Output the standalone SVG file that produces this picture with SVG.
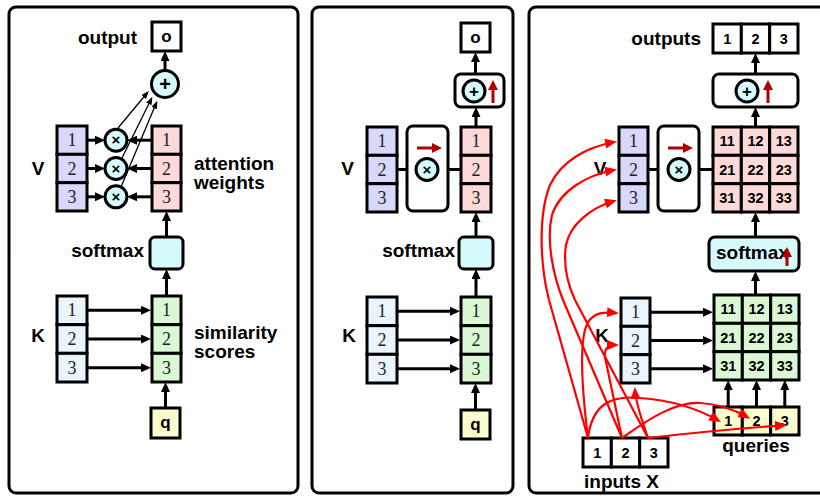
<svg xmlns="http://www.w3.org/2000/svg" width="820" height="497" viewBox="0 0 820 497">
<defs>
<style>
.panel{fill:#fff;stroke:#000;stroke-width:3}
.bx{stroke:#000;stroke-width:3}
.w{fill:#fff}
.vv{fill:#d8d8fa}
.kk{fill:#eaf4fd}
.aw{fill:#fdd9d9}
.ss{fill:#d9f8d3}
.sm{fill:#d6fafc}
.qq{fill:#fdfccf}
.op{fill:#d6fafc;stroke:#000;stroke-width:3}
.lbl{font-family:"Liberation Sans",Arial,sans-serif;font-weight:bold;font-size:19px;fill:#000}
.num{font-family:"Liberation Serif","Times New Roman",serif;font-size:18px;text-anchor:middle;fill:#222}
.cl{font-family:"Liberation Sans",Arial,sans-serif;font-weight:bold;font-size:14.5px;text-anchor:middle;fill:#000}
.sym{font-family:"Liberation Sans",Arial,sans-serif;font-weight:bold;text-anchor:middle;fill:#000}
.ar{stroke:#000;stroke-width:3;fill:none;marker-end:url(#ah)}
.thin{stroke:#000;stroke-width:1.3;fill:none;marker-end:url(#ahs)}
.ln{stroke:#000;stroke-width:3;fill:none}
.red{stroke:#ff0000;stroke-width:2.2;fill:none;marker-end:url(#ahr)}
.dr{stroke:#b00000;stroke-width:3;fill:none;marker-end:url(#ahd)}
</style>
<marker id="ah" viewBox="0 0 10 9" refX="6" refY="4.5" markerWidth="10" markerHeight="9" markerUnits="userSpaceOnUse" orient="auto"><path d="M0,0 L10,4.5 L0,9 z" fill="#000"/></marker>
<marker id="ahs" viewBox="0 0 8 6" refX="6" refY="3" markerWidth="8" markerHeight="6" markerUnits="userSpaceOnUse" orient="auto"><path d="M0,0 L8,3 L0,6 z" fill="#000"/></marker>
<marker id="ahr" viewBox="0 0 12 10" refX="9" refY="5" markerWidth="12" markerHeight="10" markerUnits="userSpaceOnUse" orient="auto"><path d="M0,0 L12,5 L0,10 z" fill="#ff0000"/></marker>
<marker id="ahd" viewBox="0 0 10 10" refX="6" refY="5" markerWidth="10" markerHeight="10" markerUnits="userSpaceOnUse" orient="auto"><path d="M0,0 L10,5 L0,10 z" fill="#b00000"/></marker>
</defs>

<g id="panels">
<rect class="panel" x="9" y="7" width="289" height="486" rx="7"/>
<rect class="panel" x="312" y="7" width="201" height="486" rx="7"/>
<rect class="panel" x="529" y="7" width="300" height="486" rx="7"/>
</g>

<!-- Panel 1 -->
<g id="p1-output">
<text class="lbl" x="137" y="44" text-anchor="end">output</text>
<rect class="bx w" x="152" y="22" width="29" height="29"/>
<text class="sym" x="166.5" y="41.5" font-size="17">o</text>
</g>
<g id="p1-sum">
<circle class="op" cx="165" cy="84" r="13.5"/>
<text class="sym" x="165" y="91" font-size="20">+</text>
</g>
<g id="p1-V">
<text class="lbl" x="38" y="175" text-anchor="middle">V</text>
<rect class="bx vv" x="57" y="126" width="30" height="28.33"/>
<rect class="bx vv" x="57" y="154.33" width="30" height="28.33"/>
<rect class="bx vv" x="57" y="182.67" width="30" height="28.33"/>
<text class="num" x="72" y="146.2">1</text>
<text class="num" x="72" y="174.5">2</text>
<text class="num" x="72" y="202.8">3</text>
</g>
<g id="p1-mul">
<circle class="op" cx="116" cy="140.2" r="11"/>
<circle class="op" cx="116" cy="168.5" r="11"/>
<circle class="op" cx="116" cy="196.8" r="11"/>
<text class="sym" x="116" y="145.4" font-size="15">×</text>
<text class="sym" x="116" y="173.7" font-size="15">×</text>
<text class="sym" x="116" y="202" font-size="15">×</text>
</g>
<g id="p1-weights">
<rect class="bx aw" x="152" y="126" width="29" height="28.33"/>
<rect class="bx aw" x="152" y="154.33" width="29" height="28.33"/>
<rect class="bx aw" x="152" y="182.67" width="29" height="28.33"/>
<text class="num" x="166.5" y="146.2">1</text>
<text class="num" x="166.5" y="174.5">2</text>
<text class="num" x="166.5" y="202.8">3</text>
<text class="lbl" x="194" y="170">attention</text>
<text class="lbl" x="194" y="189">weights</text>
</g>
<g id="p1-softmax">
<text class="lbl" x="144" y="257" text-anchor="end">softmax</text>
<rect class="bx sm" x="150" y="237" width="33" height="32" rx="5"/>
</g>
<g id="p1-K">
<text class="lbl" x="38" y="342" text-anchor="middle">K</text>
<rect class="bx kk" x="57" y="296" width="30" height="28.67"/>
<rect class="bx kk" x="57" y="324.67" width="30" height="28.67"/>
<rect class="bx kk" x="57" y="353.33" width="30" height="28.67"/>
<text class="num" x="72" y="316.3">1</text>
<text class="num" x="72" y="345">2</text>
<text class="num" x="72" y="373.7">3</text>
</g>
<g id="p1-scores">
<rect class="bx ss" x="152" y="296" width="29" height="28.67"/>
<rect class="bx ss" x="152" y="324.67" width="29" height="28.67"/>
<rect class="bx ss" x="152" y="353.33" width="29" height="28.67"/>
<text class="num" x="166.5" y="316.3">1</text>
<text class="num" x="166.5" y="345">2</text>
<text class="num" x="166.5" y="373.7">3</text>
<text class="lbl" x="194" y="339">similarity</text>
<text class="lbl" x="194" y="358">scores</text>
</g>
<g id="p1-q">
<rect class="bx qq" x="151" y="408" width="29" height="30"/>
<text class="sym" x="165.5" y="428" font-size="17">q</text>
</g>

<!-- Panel 2 -->
<g id="p2-output">
<rect class="bx w" x="461" y="23" width="29" height="29"/>
<text class="sym" x="475.5" y="42.5" font-size="17">o</text>
</g>
<g id="p2-sum">
<rect class="bx w" x="455" y="74" width="49" height="33" rx="6"/>
<circle class="op" cx="474" cy="91" r="11"/>
<text class="sym" x="474" y="97" font-size="17">+</text>
</g>
<g id="p2-V">
<text class="lbl" x="347.5" y="175" text-anchor="middle">V</text>
<rect class="bx vv" x="367" y="127" width="30" height="28.33"/>
<rect class="bx vv" x="367" y="155.33" width="30" height="28.33"/>
<rect class="bx vv" x="367" y="183.67" width="30" height="28.33"/>
<text class="num" x="382" y="147.2">1</text>
<text class="num" x="382" y="175.5">2</text>
<text class="num" x="382" y="203.8">3</text>
</g>
<g id="p2-mul">
<rect class="bx w" x="407" y="126" width="41" height="85" rx="6"/>
<circle class="op" cx="427" cy="169.5" r="11"/>
<text class="sym" x="427" y="174.7" font-size="15">×</text>
</g>
<g id="p2-weights">
<rect class="bx aw" x="461" y="127" width="30" height="28.33"/>
<rect class="bx aw" x="461" y="155.33" width="30" height="28.33"/>
<rect class="bx aw" x="461" y="183.67" width="30" height="28.33"/>
<text class="num" x="476" y="147.2">1</text>
<text class="num" x="476" y="175.5">2</text>
<text class="num" x="476" y="203.8">3</text>
</g>
<g id="p2-softmax">
<text class="lbl" x="455" y="257" text-anchor="end">softmax</text>
<rect class="bx sm" x="459" y="237" width="34" height="32" rx="5"/>
</g>
<g id="p2-K">
<text class="lbl" x="349" y="342" text-anchor="middle">K</text>
<rect class="bx kk" x="367" y="297" width="30" height="28.67"/>
<rect class="bx kk" x="367" y="325.67" width="30" height="28.67"/>
<rect class="bx kk" x="367" y="354.33" width="30" height="28.67"/>
<text class="num" x="382" y="317.3">1</text>
<text class="num" x="382" y="346">2</text>
<text class="num" x="382" y="374.7">3</text>
</g>
<g id="p2-scores">
<rect class="bx ss" x="461" y="297" width="30" height="28.67"/>
<rect class="bx ss" x="461" y="325.67" width="30" height="28.67"/>
<rect class="bx ss" x="461" y="354.33" width="30" height="28.67"/>
<text class="num" x="476" y="317.3">1</text>
<text class="num" x="476" y="346">2</text>
<text class="num" x="476" y="374.7">3</text>
</g>
<g id="p2-q">
<rect class="bx qq" x="461" y="410" width="29" height="29"/>
<text class="sym" x="475.5" y="429.5" font-size="17">q</text>
</g>

<!-- Panel 3 -->
<g id="p3-outputs">
<text class="lbl" x="701" y="45" text-anchor="end">outputs</text>
<rect class="bx w" x="713" y="24" width="28.33" height="29"/>
<rect class="bx w" x="741.33" y="24" width="28.33" height="29"/>
<rect class="bx w" x="769.67" y="24" width="28.33" height="29"/>
<text class="cl" x="727.2" y="43.5">1</text>
<text class="cl" x="755.5" y="43.5">2</text>
<text class="cl" x="783.8" y="43.5">3</text>
</g>
<g id="p3-sum">
<rect class="bx w" x="713" y="74" width="85" height="33" rx="6"/>
<circle class="op" cx="747" cy="91" r="11"/>
<text class="sym" x="747" y="97" font-size="17">+</text>
</g>
<g id="p3-V">
<text class="lbl" x="600" y="175" text-anchor="middle">V</text>
<rect class="bx vv" x="619" y="127" width="29" height="28.33"/>
<rect class="bx vv" x="619" y="155.33" width="29" height="28.33"/>
<rect class="bx vv" x="619" y="183.67" width="29" height="28.33"/>
<text class="num" x="633.5" y="147.2">1</text>
<text class="num" x="633.5" y="175.5">2</text>
<text class="num" x="633.5" y="203.8">3</text>
</g>
<g id="p3-mul">
<rect class="bx w" x="658" y="126" width="41" height="85" rx="6"/>
<circle class="op" cx="679" cy="169.5" r="11"/>
<text class="sym" x="679" y="174.7" font-size="15">×</text>
</g>
<g id="p3-weights">
<rect class="bx aw" x="713" y="127" width="28.33" height="28.33"/>
<rect class="bx aw" x="741.33" y="127" width="28.33" height="28.33"/>
<rect class="bx aw" x="769.67" y="127" width="28.33" height="28.33"/>
<rect class="bx aw" x="713" y="155.33" width="28.33" height="28.33"/>
<rect class="bx aw" x="741.33" y="155.33" width="28.33" height="28.33"/>
<rect class="bx aw" x="769.67" y="155.33" width="28.33" height="28.33"/>
<rect class="bx aw" x="713" y="183.67" width="28.33" height="28.33"/>
<rect class="bx aw" x="741.33" y="183.67" width="28.33" height="28.33"/>
<rect class="bx aw" x="769.67" y="183.67" width="28.33" height="28.33"/>
<text class="cl" x="727.2" y="146.4">11</text>
<text class="cl" x="755.5" y="146.4">12</text>
<text class="cl" x="783.8" y="146.4">13</text>
<text class="cl" x="727.2" y="174.7">21</text>
<text class="cl" x="755.5" y="174.7">22</text>
<text class="cl" x="783.8" y="174.7">23</text>
<text class="cl" x="727.2" y="203">31</text>
<text class="cl" x="755.5" y="203">32</text>
<text class="cl" x="783.8" y="203">33</text>
</g>
<g id="p3-softmax">
<rect class="bx sm" x="709" y="237" width="90" height="34" rx="6"/>
<text class="lbl" x="716" y="259" font-size="15">softmax</text>
</g>
<g id="p3-K">
<text class="lbl" x="602" y="342" text-anchor="middle">K</text>
<rect class="bx kk" x="621" y="298" width="29" height="28.33"/>
<rect class="bx kk" x="621" y="326.33" width="29" height="28.33"/>
<rect class="bx kk" x="621" y="354.67" width="29" height="28.33"/>
<text class="num" x="635.5" y="318.2">1</text>
<text class="num" x="635.5" y="346.5">2</text>
<text class="num" x="635.5" y="374.8">3</text>
</g>
<g id="p3-scores">
<rect class="bx ss" x="714" y="295" width="28.33" height="28.33"/>
<rect class="bx ss" x="742.33" y="295" width="28.33" height="28.33"/>
<rect class="bx ss" x="770.67" y="295" width="28.33" height="28.33"/>
<rect class="bx ss" x="714" y="323.33" width="28.33" height="28.33"/>
<rect class="bx ss" x="742.33" y="323.33" width="28.33" height="28.33"/>
<rect class="bx ss" x="770.67" y="323.33" width="28.33" height="28.33"/>
<rect class="bx ss" x="714" y="351.67" width="28.33" height="28.33"/>
<rect class="bx ss" x="742.33" y="351.67" width="28.33" height="28.33"/>
<rect class="bx ss" x="770.67" y="351.67" width="28.33" height="28.33"/>
<text class="cl" x="728.2" y="314.4">11</text>
<text class="cl" x="756.5" y="314.4">12</text>
<text class="cl" x="784.8" y="314.4">13</text>
<text class="cl" x="728.2" y="342.7">21</text>
<text class="cl" x="756.5" y="342.7">22</text>
<text class="cl" x="784.8" y="342.7">23</text>
<text class="cl" x="728.2" y="371">31</text>
<text class="cl" x="756.5" y="371">32</text>
<text class="cl" x="784.8" y="371">33</text>
</g>
<g id="p3-queries">
<rect class="bx qq" x="714" y="407" width="28.33" height="28"/>
<rect class="bx qq" x="742.33" y="407" width="28.33" height="28"/>
<rect class="bx qq" x="770.67" y="407" width="28.33" height="28"/>
<text class="cl" x="728.2" y="426">1</text>
<text class="cl" x="756.5" y="426">2</text>
<text class="cl" x="784.8" y="426">3</text>
<text class="lbl" x="756" y="452" text-anchor="middle">queries</text>
</g>
<g id="p3-inputs">
<rect class="bx w" x="583" y="438" width="28.33" height="29"/>
<rect class="bx w" x="611.33" y="438" width="28.33" height="29"/>
<rect class="bx w" x="639.67" y="438" width="28.33" height="29"/>
<text class="cl" x="597.2" y="457.5">1</text>
<text class="cl" x="625.5" y="457.5">2</text>
<text class="cl" x="653.8" y="457.5">3</text>
<text class="lbl" x="584" y="488">inputs X</text>
</g>

<g id="connectors">
<!-- panel 1 -->
<path class="ar" d="M165,70.5 V55"/>
<path class="thin" d="M118,128 L147.5,92.5"/>
<path class="thin" d="M122,158 L151.5,98.5"/>
<path class="thin" d="M121,187 L156.5,102.5"/>
<path class="ar" d="M88,140.2 H101"/>
<path class="ar" d="M88,168.5 H101"/>
<path class="ar" d="M88,196.8 H101"/>
<path class="ar" d="M151,140.2 H131"/>
<path class="ar" d="M151,168.5 H131"/>
<path class="ar" d="M151,196.8 H131"/>
<path class="ar" d="M166.5,237 V215"/>
<path class="ar" d="M166.5,296 V273"/>
<path class="ar" d="M88,310.3 H147"/>
<path class="ar" d="M88,339 H147"/>
<path class="ar" d="M88,367.7 H147"/>
<path class="ar" d="M165.5,408 V386"/>
<!-- panel 2 -->
<path class="ar" d="M475.5,74 V56"/>
<path class="ar" d="M476,127 V111"/>
<path class="ln" d="M397,169.5 H407 M448,169.5 H461"/>
<path class="dr" d="M417,148 H438"/>
<path class="dr" d="M493,103 V84"/>
<path class="ar" d="M476,237 V216"/>
<path class="ar" d="M476,297 V273"/>
<path class="ar" d="M398,311.3 H456"/>
<path class="ar" d="M398,340 H456"/>
<path class="ar" d="M398,368.7 H456"/>
<path class="ar" d="M475.5,410 V387"/>
<!-- panel 3 -->
<path class="ar" d="M755.5,74 V57"/>
<path class="ar" d="M755.5,127 V111"/>
<path class="dr" d="M768,103 V84"/>
<path class="ln" d="M648,169.5 H658 M699,169.5 H713"/>
<path class="dr" d="M668,148 H689"/>
<path class="ar" d="M755.5,237 V216"/>
<path class="dr" d="M787,266 V251"/>
<path class="ar" d="M755.5,295 V275"/>
<path class="ar" d="M651,312.2 H709"/>
<path class="ar" d="M651,340.5 H709"/>
<path class="ar" d="M651,368.8 H709"/>
<path class="ar" d="M728.2,407 V384"/>
<path class="ar" d="M756.5,407 V384"/>
<path class="ar" d="M784.8,407 V384"/>
<!-- red input projections -->
<path class="red" d="M588,438 L549,300 C540,265 538,215 550,185 C562,160 588,147 614,142"/>
<path class="red" d="M622,438 L563,300 C553,275 546,240 552,215 C560,190 588,175 614,170"/>
<path class="red" d="M648,438 L575,300 C568,285 563,265 566,245 C570,225 590,208 614,201"/>
<path class="red" d="M588,438 C582,390 578,340 588,322 C595,312 604,312 616,313"/>
<path class="red" d="M622,438 L606,362 C603,350 606,345 616,345"/>
<path class="red" d="M648,438 C642,420 636,405 635,390"/>
<path class="red" d="M588,438 C592,405 610,395 640,398 C670,400 698,409 718.4,420.5"/>
<path class="red" d="M622,438 C650,418 675,402 700,403 C720,404 735,410 747.5,417.3"/>
<path class="red" d="M648,438 C700,432 745,428 784,425.3"/>
</g>
</svg>
